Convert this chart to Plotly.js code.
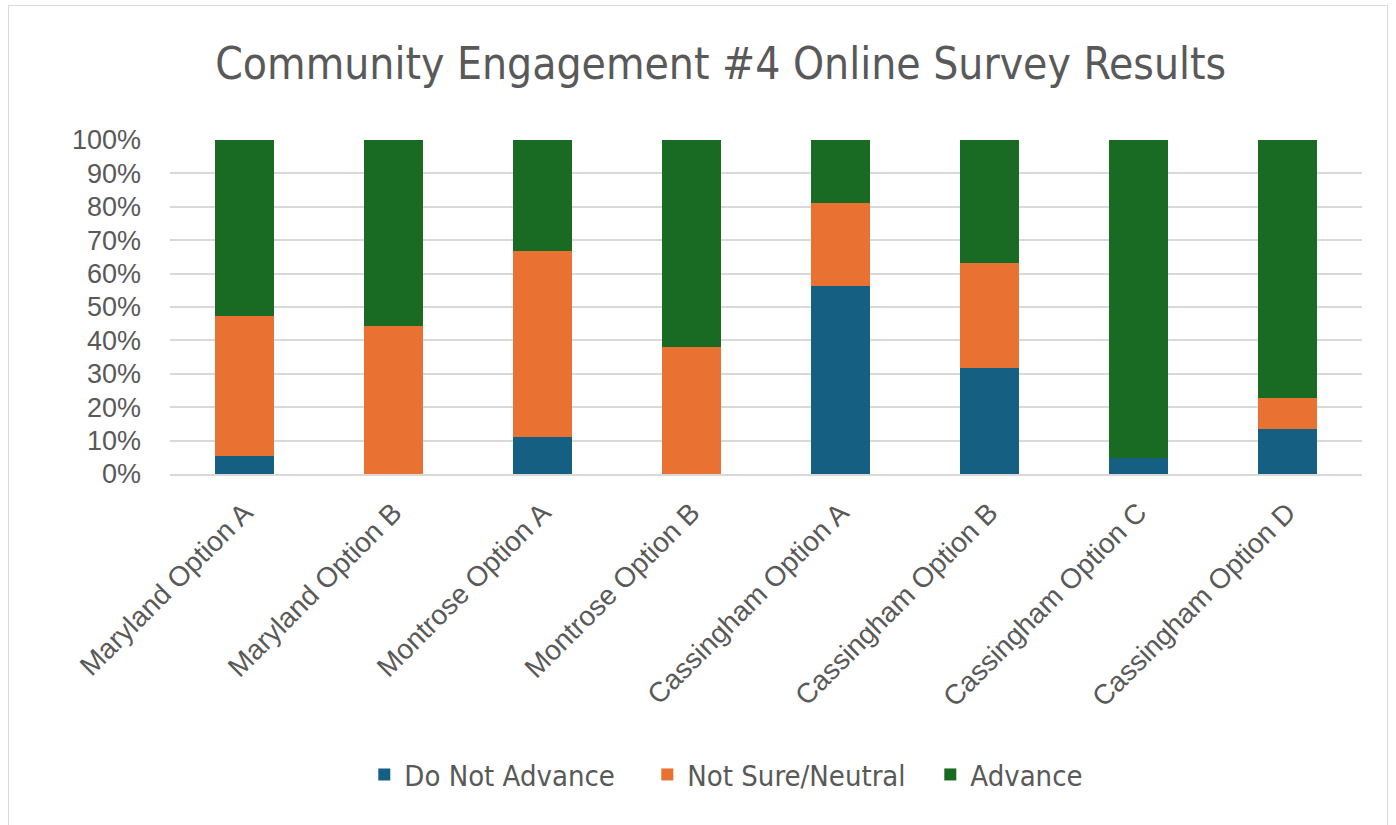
<!DOCTYPE html>
<html>
<head>
<meta charset="utf-8">
<script src="https://cdn.plot.ly/plotly-3.0.1.min.js"></script>
<style>
  html, body { margin: 0; padding: 0; background: #ffffff; overflow: hidden; }
  #frame { position: absolute; left: 8px; top: 5px; width: 1378px; height: 830px; border: 1px solid #d9d9d9; background: #fff; }
  #chart { width: 1378px; height: 820px; }
</style>
</head>
<body>
<div id="frame"><div id="chart"></div></div>
<script>
const categories = ["Maryland Option A", "Maryland Option B", "Montrose Option A", "Montrose Option B",
                    "Cassingham Option A", "Cassingham Option B", "Cassingham Option C", "Cassingham Option D"];
const doNotAdvance = [5.3, 0, 11.1, 0, 56.25, 31.6, 4.8, 13.6];
const notSureNeutral = [42.1, 44.4, 55.6, 38.0, 25.0, 31.6, 0, 9.1];
const advance = [52.6, 55.6, 33.3, 62.0, 18.75, 36.8, 95.2, 77.3];
const yTickVals = [0, 10, 20, 30, 40, 50, 60, 70, 80, 90, 100];
const yTickText = ["0%", "10%", "20%", "30%", "40%", "50%", "60%", "70%", "80%", "90%", "100%"];

const textColor = "#595959";
const narrow = "Liberation Sans Narrow, DejaVu Sans Condensed, Arial Narrow, sans-serif";
const regular = "Liberation Sans, Arial, sans-serif";

const traces = [
  { name: "Do Not Advance", x: categories, y: doNotAdvance, type: "bar", marker: { color: "#156082" } },
  { name: "Not Sure/Neutral", x: categories, y: notSureNeutral, type: "bar", marker: { color: "#E97132" } },
  { name: "Advance", x: categories, y: advance, type: "bar", marker: { color: "#196B24" } }
];

const layout = {
  width: 1378, height: 820,
  margin: { l: 161, r: 25, t: 134, b: 352 },
  paper_bgcolor: "#ffffff", plot_bgcolor: "#ffffff",
  barmode: "stack", bargap: 0.6,
  hovermode: false,
  title: {
    text: "Community Engagement #4 Online Survey Results",
    font: { family: narrow, size: 44, color: textColor },
    x: 0.462, xref: "paper", xanchor: "center",
    y: 0.93, yref: "container", yanchor: "middle"
  },
  xaxis: {
    type: "category",
    tickangle: -45,
    tickfont: { family: regular, size: 28, color: textColor },
    showgrid: false, showline: true, linecolor: "#d9d9d9", linewidth: 2,
    ticks: "", ticklabelstandoff: 9, automargin: false
  },
  yaxis: {
    range: [0, 100], tickmode: "array", tickvals: yTickVals, ticktext: yTickText,
    tickfont: { family: regular, size: 27, color: textColor },
    showgrid: true, gridcolor: "#d9d9d9", gridwidth: 2,
    zeroline: false, showline: false, ticks: "", ticklabelstandoff: 28, automargin: false
  },
  showlegend: true,
  legend: {
    orientation: "h", x: 0.163, xanchor: "left", xref: "paper",
    y: -0.9, yanchor: "middle", yref: "paper",
    entrywidth: 238, entrywidthmode: "pixels",
    font: { family: narrow, size: 29, color: textColor },
    traceorder: "normal", itemclick: false, itemdoubleclick: false
  }
};

Plotly.newPlot("chart", traces, layout, { displayModeBar: false, staticPlot: true });
</script>
</body>
</html>
